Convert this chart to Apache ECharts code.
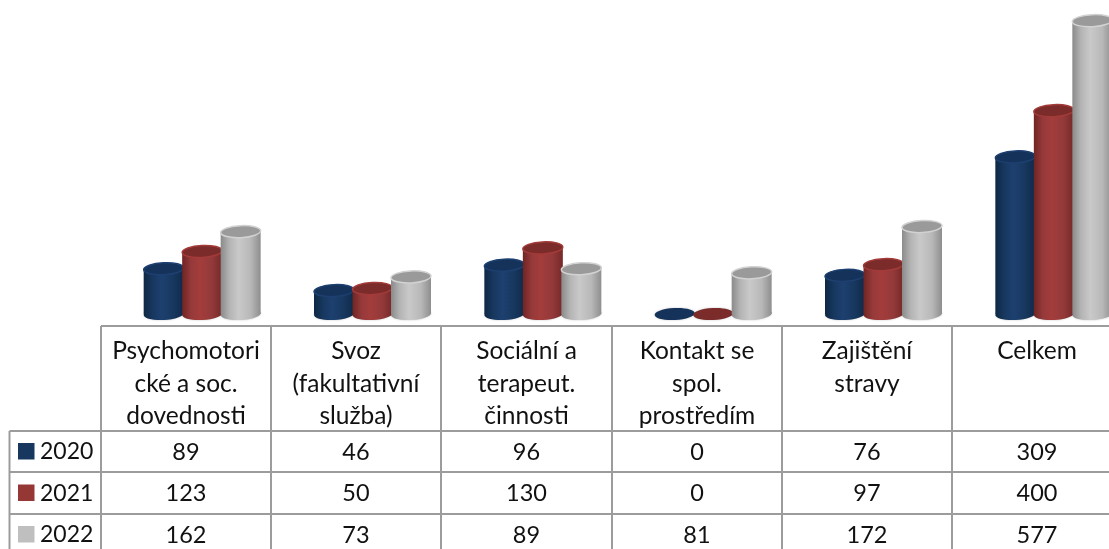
<!DOCTYPE html>
<html>
<head>
<meta charset="utf-8">
<style>html,body{margin:0;padding:0;background:#fff;overflow:hidden}#c{width:1109px;height:549px}</style>
<script src="https://cdn.jsdelivr.net/npm/echarts@6/dist/echarts.min.js"></script>
</head>
<body>
<div id="c"></div>
<script>
const categories = ['Psychomotori\ncké a soc.\ndovednosti', 'Svoz\n(fakultativní\nslužba)', 'Sociální a\nterapeut.\nčinnosti', 'Kontakt se\nspol.\nprostředím', 'Zajištění\nstravy', 'Celkem'];
const years = ['2020', '2021', '2022'];
const values2020 = [89, 46, 96, 0, 76, 309];
const values2021 = [123, 50, 130, 0, 97, 400];
const values2022 = [162, 73, 89, 81, 172, 577];
const seriesValues = [values2020, values2021, values2022];

const palette = [
  {key:'#17375e', stops:['#0e2744','#17375e','#1d4070','#17375e','#10294a'], cap:'#15325a', rim:'#1d4070'},
  {key:'#953735', stops:['#6e2523','#96393a','#a33d3b','#93393a','#752827'], cap:'#7a2b2a', rim:'#a23b39'},
  {key:'#bfbfbf', stops:['#8a8a8a','#b4b4b4','#c9c9c9','#b8b8b8','#8e8e8e'], cap:'#9a9a9a', rim:'#d2d2d2'}
];
const FONT = 'Lato, Carlito, sans-serif';
const STEP = 38.5, WIDTH = 40, RY = 6, TILT = 0.05;

function cylinder(s) {
  return function (params, api) {
    const p = palette[s];
    const top = api.coord([api.value(0), api.value(1)]);
    const base = api.coord([api.value(0), 0]);
    const cx = top[0] + (s - 1) * STEP;
    const rx = WIDTH / 2;
    const ell = (y, extra) => Object.assign({
      type: 'ellipse', x: cx, y: y, rotation: TILT,
      shape: {cx: 0, cy: 0, rx: rx, ry: RY}
    }, extra);
    if (api.value(1) === 0) {
      return ell(base[1], {style: {fill: p.cap, shadowBlur: 2, shadowColor: 'rgba(0,0,0,.25)'}});
    }
    const fill = {type: 'linear', x: 0, y: 0, x2: 1, y2: 0, colorStops: [
      {offset: 0, color: p.stops[0]}, {offset: .22, color: p.stops[1]},
      {offset: .45, color: p.stops[2]}, {offset: .75, color: p.stops[3]}, {offset: 1, color: p.stops[4]}
    ]};
    return {type: 'group', children: [
      ell(base[1], {style: {fill: fill, shadowBlur: 2, shadowColor: 'rgba(0,0,0,.25)'}}),
      {type: 'rect', shape: {x: cx - rx, y: top[1], width: WIDTH, height: base[1] - top[1]}, style: {fill: fill}},
      ell(top[1], {style: {fill: p.cap, stroke: p.rim, lineWidth: 1.5}})
    ]};
  };
}

// data table
const LINE = '#9c9c9c', TXT = '#111';
const tblX = [101, 271, 441, 612, 782, 952, 1122];
const tblY = [326, 431, 472, 514, 555];
const outerX = 9.5;
const gfx = [];
const line = (x1, y1, x2, y2) => gfx.push({type: 'line', silent: true, shape: {x1, y1, x2, y2}, style: {stroke: LINE, lineWidth: 2}});
const text = (x, y, t, size, align) => gfx.push({type: 'text', silent: true, x, y, style: {
  text: t, font: size + 'px ' + FONT, fill: TXT, align: align || 'center', verticalAlign: 'middle'
}});
tblX.forEach(x => line(x, tblY[0], x, 549));
line(tblX[0], tblY[0], 1109, tblY[0]);
tblY.slice(1, 4).forEach(y => line(outerX, y, 1109, y));
line(outerX, tblY[1], outerX, 549);
categories.forEach((c, i) => {
  const cx = (tblX[i] + tblX[i + 1]) / 2;
  c.split('\n').forEach((part, k) => text(cx, 351.5 + 32.3 * k, part, 24.5));
  seriesValues.forEach((v, r) => text(cx, (tblY[r + 1] + tblY[r + 2]) / 2 + 0.5, String(v[i]), 23.5));
});
years.forEach((y, r) => {
  const my = (tblY[r + 1] + tblY[r + 2]) / 2;
  gfx.push({type: 'rect', silent: true, shape: {x: 18, y: my - 8.5, width: 16.5, height: 16.5}, style: {fill: palette[r].key}});
  text(40, my + 0.5, y, 23, 'left');
});

const chart = echarts.init(document.getElementById('c'), null, {renderer: 'canvas'});
chart.setOption({
  animation: false,
  backgroundColor: '#fff',
  grid: {left: 117, top: 9, width: 1022, height: 305, outerBoundsMode: 'none', containLabel: false},
  xAxis: {type: 'category', data: categories, axisLine: {show: false}, axisTick: {show: false}, axisLabel: {show: false}},
  yAxis: {type: 'value', min: 0, max: 600, interval: 100, axisLine: {show: false}, axisTick: {show: false}, axisLabel: {show: false}, splitLine: {show: false}},
  series: years.map((y, s) => ({
    type: 'custom', name: y, clip: false, silent: true,
    encode: {x: 0, y: 1},
    data: seriesValues[s].map((v, i) => [i, v]),
    renderItem: cylinder(s)
  })),
  graphic: gfx
});
</script>
</body>
</html>
